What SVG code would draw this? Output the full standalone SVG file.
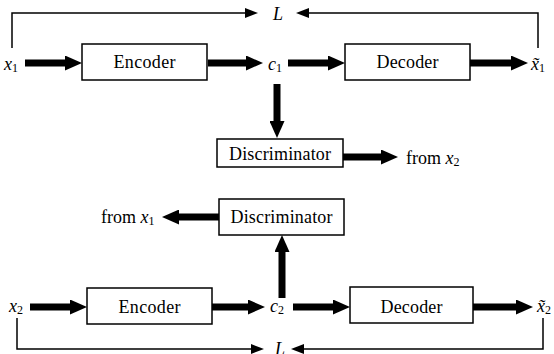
<svg xmlns="http://www.w3.org/2000/svg" width="554" height="354" viewBox="0 0 554 354" font-family="Liberation Serif, Times New Roman, serif">
  <style>
    text { fill: #000; }
    .box { fill: #fff; stroke: #000; stroke-width: 1.5; }
    .lbl { font-size: 18px; }
    .var { font-size: 18px; font-style: italic; }
    .sub { font-size: 12px; font-style: normal; }
    .thick { stroke: #000; stroke-width: 7; fill: none; marker-end: url(#bigHead); }
    .thin { stroke: #000; stroke-width: 1.5; fill: none; marker-end: url(#smallHead); }
  </style>
  <defs>
    <marker id="bigHead" markerUnits="userSpaceOnUse" markerWidth="17" markerHeight="15" refX="1" refY="7.5" orient="auto">
      <path d="M0,0 L17,7.5 L0,15 Z" fill="#000"/>
    </marker>
    <marker id="smallHead" markerUnits="userSpaceOnUse" markerWidth="13" markerHeight="10" refX="1" refY="5" orient="auto">
      <path d="M0,0 L13,5 L0,10 Z" fill="#000"/>
    </marker>
  </defs>

  <!-- connectors -->
  <g id="connectors">
    <!-- upper chain -->
    <path class="thick" d="M25,63 H66"/>
    <path class="thick" d="M208,63 H247"/>
    <path class="thick" d="M288,63 H329"/>
    <path class="thick" d="M470,63 H512"/>
    <path class="thick" d="M277,84 V122"/>
    <path class="thick" d="M343,157 H382"/>
    <path class="thin" d="M12,48 V13 H246"/>
    <path class="thin" d="M538,48 V13 H308"/>
    <!-- lower chain -->
    <path class="thick" d="M30,307 H71"/>
    <path class="thick" d="M212,307 H249"/>
    <path class="thick" d="M293,307 H334"/>
    <path class="thick" d="M473,307 H517"/>
    <path class="thick" d="M282,298 V251"/>
    <path class="thick" d="M219,217 H178"/>
    <path class="thin" d="M17,318 V349 H252"/>
    <path class="thin" d="M543,318 V349 H303"/>
  </g>

  <!-- nodes -->
  <g id="encoder1">
    <rect class="box" x="82" y="44" width="125" height="36"/>
    <text class="lbl" x="144.5" y="68" text-anchor="middle" textLength="62">Encoder</text>
  </g>
  <g id="decoder1">
    <rect class="box" x="345" y="44" width="125" height="36"/>
    <text class="lbl" x="407.5" y="68" text-anchor="middle" textLength="62">Decoder</text>
  </g>
  <g id="discriminator1">
    <rect class="box" x="217" y="139" width="126" height="28"/>
    <text class="lbl" x="280" y="160" text-anchor="middle" textLength="102">Discriminator</text>
  </g>
  <g id="discriminator2">
    <rect class="box" x="219" y="199" width="125" height="36"/>
    <text class="lbl" x="281.5" y="223" text-anchor="middle" textLength="102">Discriminator</text>
  </g>
  <g id="encoder2">
    <rect class="box" x="87" y="288" width="125" height="36"/>
    <text class="lbl" x="149.5" y="313" text-anchor="middle" textLength="62">Encoder</text>
  </g>
  <g id="decoder2">
    <rect class="box" x="350" y="287" width="123" height="36"/>
    <text class="lbl" x="411.5" y="313" text-anchor="middle" textLength="62">Decoder</text>
  </g>

  <!-- variable labels -->
  <g id="labels">
    <text class="var" x="4" y="70">x<tspan class="sub" dy="2">1</tspan></text>
    <text class="var" x="268" y="70">c<tspan class="sub" dy="2">1</tspan></text>
    <text class="var" x="531" y="70">x̃<tspan class="sub" dy="2">1</tspan></text>
    <text class="var" x="273" y="20" font-size="16">L</text>
    <text class="lbl" x="406" y="164" font-size="17">from <tspan class="var">x</tspan><tspan class="sub" dy="2">2</tspan></text>
    <text class="lbl" x="101" y="223" font-size="17">from <tspan class="var">x</tspan><tspan class="sub" dy="2">1</tspan></text>
    <text class="var" x="9" y="312">x<tspan class="sub" dy="2">2</tspan></text>
    <text class="var" x="270" y="312">c<tspan class="sub" dy="2">2</tspan></text>
    <text class="var" x="537" y="312">x̃<tspan class="sub" dy="2">2</tspan></text>
    <text class="var" x="275" y="355" font-size="16">L</text>
  </g>
</svg>
